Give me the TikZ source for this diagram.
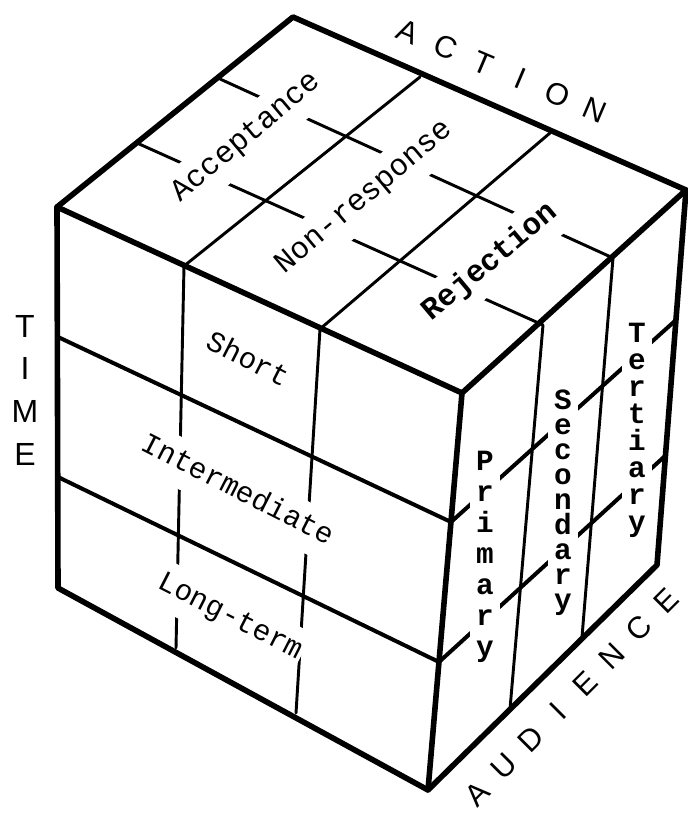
\documentclass[tikz,border=0pt]{standalone}
\usepackage{fontspec}
\setmainfont{Liberation Sans}
\newfontfamily\typefont{Liberation Mono}
\usetikzlibrary{calc}

\begin{document}
\begin{tikzpicture}[
  x=0.75pt,y=-0.75pt,
  edge/.style={line width=4.2pt,line join=round,line cap=round},
  tline/.style={line width=3pt,line cap=round,line join=round},
  grid/.style={line width=2.2pt,line cap=round,line join=round},
  facelbl/.style={font=\typefont\fontsize{23}{26}\selectfont,fill=white,inner xsep=2pt,inner ysep=9pt,text height=14pt,text depth=4pt},
  timelbl/.style={facelbl,font=\typefont\fontsize{22}{26}\selectfont,inner xsep=1pt,rotate=-27},
  audlbl/.style={fill=white,align=center,inner xsep=5pt,inner ysep=2pt},
  axislbl/.style={font=\fontsize{23}{28}\selectfont,inner sep=0pt}
]
\useasboundingbox (0,0) rectangle (688,817);

% cube corners
\coordinate (T) at (293,17);
\coordinate (L) at (57,207);
\coordinate (F) at (462,393);
\coordinate (R) at (686,190);
\coordinate (BL) at (58,588);
\coordinate (BF) at (428,790);
\coordinate (BR) at (657,565);

% division points on the edges
\coordinate (ta1) at (420,77);  \coordinate (ta2) at (550,133);
\coordinate (fl1) at (184,266); \coordinate (fl2) at (320,329);
\coordinate (bl1) at (176,648); \coordinate (bl2) at (296,713);
\coordinate (tl1) at (220,79);  \coordinate (tl2) at (137,143);
\coordinate (fr1) at (613,258); \coordinate (fr2) at (543,325);
\coordinate (br1) at (582,637); \coordinate (br2) at (510,709);
\coordinate (ll1) at (58,337);  \coordinate (ll2) at (58,477);
\coordinate (ff1) at (451,522); \coordinate (ff2) at (439,662);
\coordinate (rr1) at (676,320); \coordinate (rr2) at (665,456);

\draw[grid] (ta1) -- (fl1) -- (bl1);
\draw[grid] (ta2) -- (fl2) -- (bl2);
\draw[grid] (tl1) -- (fr1) -- (br1);
\draw[grid] (tl2) -- (fr2) -- (br2);
\draw[tline] (ll1) -- (ff1) -- (rr1);
\draw[tline] (ll2) -- (ff2) -- (rr2);
\draw[edge] (T) -- (R) -- (BR) -- (BF) -- (BL) -- (L) -- cycle;
\draw[edge] (L) -- (F) -- (R) (F) -- (BF);

% action
\node[facelbl,rotate=40] (accept) at (247,138) {Acceptance};
\node[facelbl,rotate=40] (nonresp) at (365,198) {Non-response};
\node[facelbl,rotate=40,font=\typefont\bfseries\fontsize{23}{26}\selectfont] (reject) at (491,263) {Rejection};

% time
\node[timelbl] (short) at (247,362) {Short};
\node[timelbl] (inter) at (237,492) {Intermediate};
\node[timelbl] (longterm) at (230,618) {Long-term};

% audience
\node[audlbl,font=\typefont\bfseries\fontsize{22}{23.25}\selectfont] (prim) at (485,557) {P\\r\\i\\m\\a\\r\\y};
\node[audlbl,font=\typefont\bfseries\fontsize{22}{18.75}\selectfont] (second) at (563,503) {S\\e\\c\\o\\n\\d\\a\\r\\y};
\node[audlbl,font=\typefont\bfseries\fontsize{22}{20.25}\selectfont] (tert) at (637,430) {T\\e\\r\\t\\i\\a\\r\\y};

% axis names
\foreach \ch [count=\i from 0] in {A,C,T,I,O,N}
  \node[axislbl,rotate=-23] (act\i) at ($(408,32)!\i/5!(595,110)$) {\ch};
\foreach \ch [count=\i from 0] in {A,U,D,I,E,N,C,E}
  \node[axislbl,rotate=45] (aud\i) at ($(477,794)!\i/7!(666,601)$) {\ch};
\node[axislbl,align=center,font=\fontsize{24}{32}\selectfont] (time) at (25,390) {T\\I\\M\\E};
\end{tikzpicture}
\end{document}
